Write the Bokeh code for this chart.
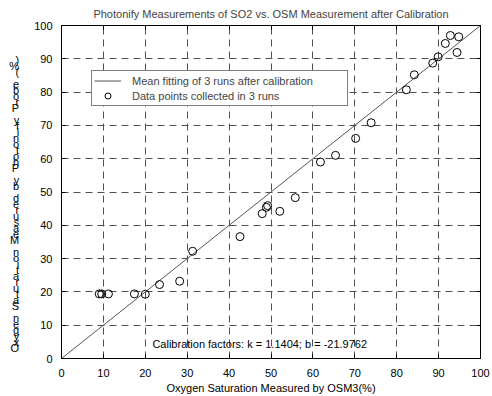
from bokeh.plotting import figure
from bokeh.models import (Range1d, LinearAxis, SingleIntervalTicker, Label, Legend,
                          LegendItem, CustomLabelingPolicy)
from bokeh.embed import file_html
from bokeh.resources import INLINE

# ---- data ----
osm_x = [9.0, 9.6, 11.2, 17.4, 20.0, 23.4, 28.2, 31.3, 42.6, 47.9, 48.9, 49.2,
         52.1, 55.8, 61.8, 65.4, 70.2, 73.9, 82.3, 84.2, 88.6, 89.9, 91.6, 92.8,
         94.8, 94.4]
photonify_y = [19.4, 19.4, 19.4, 19.4, 19.3, 22.2, 23.2, 32.2, 36.6, 43.5, 45.4, 45.9,
               44.2, 48.3, 59.0, 61.0, 66.1, 70.8, 80.7, 85.2, 88.7, 90.6, 94.6, 97.0,
               96.6, 91.9]
fit_x = [0, 100]
fit_y = [0, 100]

title = "Photonify Measurements of SO2 vs. OSM Measurement after Calibration"
x_label = "Oxygen Saturation Measured by OSM3(%)"
y_label = "Oxygen Saturation Measured by Photonify Probe (%)"
calib_text = "Calibration factors: k = 1.1404; b = -21.9762"
legend_fit = "Mean fitting of 3 runs after calibration"
legend_pts = "Data points collected in 3 runs"

FONT = "Liberation Sans"

p = figure(width=492, height=396, output_backend="svg", toolbar_location=None,
           x_range=Range1d(0, 100), y_range=Range1d(0, 100),
           min_border_left=61, min_border_right=12, min_border_top=25, min_border_bottom=38)

p.title.text = title
p.title.align = "center"
p.title.text_font = FONT
p.title.text_font_size = "11px"
p.title.text_font_style = "normal"
p.title.standoff = 4

p.outline_line_color = "black"
p.outline_line_width = 1

for ax in (p.xaxis[0], p.yaxis[0]):
    ax.ticker = SingleIntervalTicker(interval=10)
    ax.major_tick_in = 4
    ax.major_tick_out = 0
    ax.minor_tick_line_color = None
    ax.axis_line_color = "black"
    ax.major_tick_line_color = "black"
    ax.major_label_text_font = FONT
    ax.major_label_text_font_size = "11px"
    ax.major_label_text_color = "black"
    ax.axis_label_text_font = FONT
    ax.axis_label_text_font_size = "11px"
    ax.axis_label_text_font_style = "normal"
    ax.axis_label_text_color = "black"

p.xaxis[0].axis_label = x_label
p.xaxis[0].major_label_standoff = 6
p.xaxis[0].axis_label_standoff = 2

# MATLAB-style stacked (upright) characters, read bottom to top
p.yaxis[0].axis_label = "\n" * 4 + "\n".join(reversed(y_label))
p.yaxis[0].axis_label_orientation = "horizontal"
p.yaxis[0].axis_label_text_line_height = 0.5
p.yaxis[0].major_label_standoff = 5
p.yaxis[0].axis_label_standoff = 12

no_labels = CustomLabelingPolicy(code="""
for (const i of indices) indices.unset(i)
return indices
""")
for loc in ("right", "above"):
    ax = LinearAxis(ticker=SingleIntervalTicker(interval=10))
    ax.major_tick_in = 4
    ax.major_tick_out = 0
    ax.minor_tick_line_color = None
    ax.major_label_policy = no_labels
    ax.major_label_text_font_size = "0px"
    ax.major_label_standoff = 0
    ax.axis_line_color = "black"
    p.add_layout(ax, loc)

p.xgrid.ticker = SingleIntervalTicker(interval=10)
p.ygrid.ticker = SingleIntervalTicker(interval=10)
for g in (p.xgrid[0], p.ygrid[0]):
    g.grid_line_color = "#505050"
    g.grid_line_dash = "7 5"
    g.grid_line_width = 1

fit_r = p.line(fit_x, fit_y, line_color="#555555", line_width=1)
pts_r = p.scatter(osm_x, photonify_y, marker="circle", size=8, fill_color=None,
                  line_color="black", line_width=1)

p.add_layout(Label(x=21.7, y=4.4, text=calib_text, text_font=FONT, text_font_size="11px",
                   text_baseline="middle", text_color="black"))

legend = Legend(items=[LegendItem(label=legend_fit, renderers=[fit_r]),
                       LegendItem(label=legend_pts, renderers=[pts_r])],
                location=(30, 252), orientation="vertical")
legend.padding = 2
legend.margin = 0
legend.spacing = 0
legend.glyph_width = 27
legend.glyph_height = 15
legend.label_height = 15
legend.label_width = 213
legend.label_standoff = 11
legend.label_text_font = FONT
legend.label_text_font_size = "11px"
legend.border_line_color = "black"
legend.border_line_width = 1
legend.background_fill_color = "white"
legend.background_fill_alpha = 1
p.add_layout(legend, "center")

open("out.html", "w").write(file_html(p, INLINE))
